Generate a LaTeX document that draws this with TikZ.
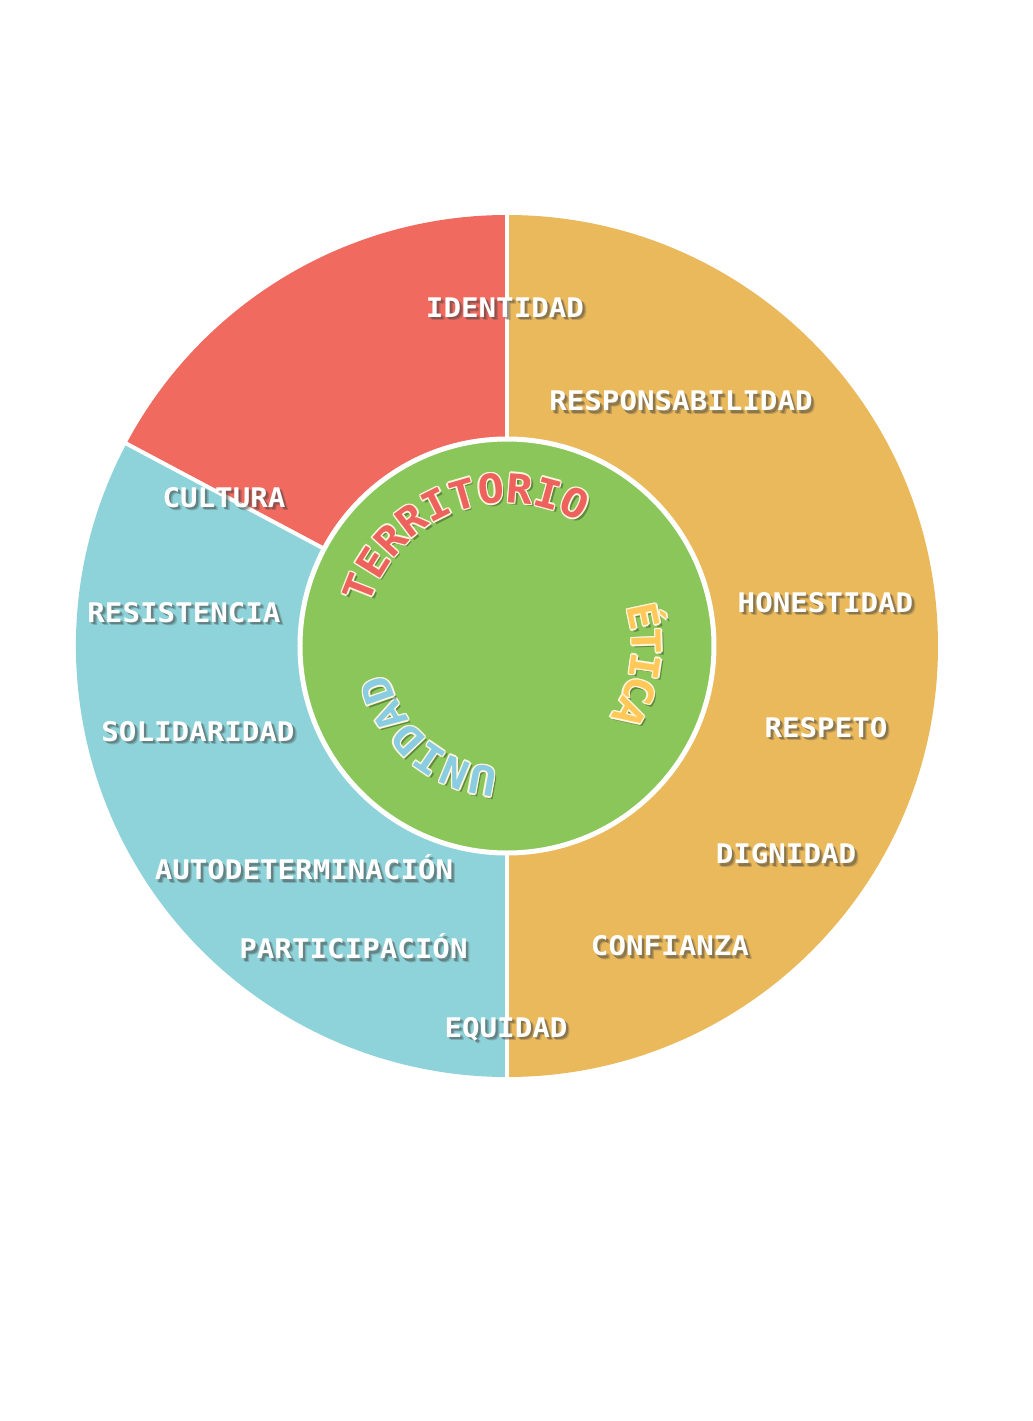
\documentclass[tikz,border=0pt]{standalone}
\usepackage{fontspec}
\newfontfamily\monofont{DejaVu Sans Mono}
\newcommand{\valfont}{\monofont\bfseries\fontsize{13.5}{16}\selectfont}
\newcommand{\ringfont}{\monofont\bfseries\fontsize{20}{24}\selectfont}

\definecolor{segred}{RGB}{240,106,96}
\definecolor{segorange}{RGB}{233,185,92}
\definecolor{segblue}{RGB}{141,211,217}
\definecolor{segcentre}{RGB}{139,198,90}
\definecolor{wordred}{RGB}{238,98,94}
\definecolor{wordorange}{RGB}{255,200,88}
\definecolor{wordblue}{RGB}{138,205,226}
\definecolor{wordedge}{RGB}{255,246,222}

\tikzset{
  valtext/.style={font=\valfont, text=white, inner sep=0pt, text height=9.8pt, text depth=0pt},
  valshade/.style={valtext, text=black!75, opacity=0.4},
  ringletter/.style={font=\ringfont, inner sep=0pt, text height=14.6pt, text depth=0pt},
  ringedge/.style={ringletter, text=wordedge},
  ringshade/.style={ringletter, text=black, opacity=0.3}
}

% label with soft shadow: name, position, text
\newcommand{\valuelabel}[3]{%
  \node[valshade, opacity=0.25, xshift=1.8pt, yshift=-1.8pt, xscale=1.08] (#1-t) at (#2) {#3};
  \node[valshade, xshift=1.1pt, yshift=-1.1pt, xscale=1.08] (#1-s) at (#2) {#3};
  \node[valtext, xscale=1.08] (#1) at (#2) {#3};
}

% word round the inner circle: name, colour, radius, start angle, step, letters
\newcommand{\ringword}[6]{%
  \foreach \ch [count=\i] in {#6} {
    \pgfmathsetmacro{\ang}{#4+(\i-1)*(#5)}
    \node[ringshade, xshift=1.3pt, yshift=-1.3pt, rotate=\ang-90, xscale=1.1] (#1-\i-s) at (\ang:#3) {\ch};
    \foreach \dx/\dy [count=\k] in {0.7/0,-0.7/0,0/0.7,0/-0.7,0.5/0.5,-0.5/0.5,0.5/-0.5,-0.5/-0.5} {
      \node[ringedge, xshift=\dx pt, yshift=\dy pt, rotate=\ang-90, xscale=1.1] (#1-\i-e\k) at (\ang:#3) {\ch};
    }
    \node[ringletter, text=#2, rotate=\ang-90, xscale=1.1] (#1-\i) at (\ang:#3) {\ch};
  }
}

\begin{document}
\begin{tikzpicture}[x=0.5pt,y=0.5pt]
  \fill[white] (-507,-775) rectangle (526,646);
  \useasboundingbox (-507,-775) rectangle (526,646);

  %outer ring
  \fill[segorange] (0,0) -- (-90:431) arc (-90:90:431) -- cycle;
  \fill[segred] (0,0) -- (90:431) arc (90:152:431) -- cycle;
  \fill[segblue] (0,0) -- (152:431) arc (152:270:431) -- cycle;
  \foreach \a in {90,152,270} {
    \draw[white, line width=2pt] (0,0) -- (\a:434);
  }

  %centre
  \filldraw[fill=segcentre, draw=white, line width=2.5pt] (0,0) circle (207);

  %values
  \valuelabel{identidad}{-2,338.5}{IDENTIDAD}
  \valuelabel{responsabilidad}{174,245}{RESPONSABILIDAD}
  \valuelabel{cultura}{-283,148.5}{CULTURA}
  \valuelabel{resistencia}{-323,33.5}{RESISTENCIA}
  \valuelabel{solidaridad}{-309,-85.5}{SOLIDARIDAD}
  \valuelabel{autodeterminacion}{-203,-224}{AUTODETERMINACIÓN}
  \valuelabel{participacion}{-153.5,-303}{PARTICIPACIÓN}
  \valuelabel{equidad}{-1,-381.5}{EQUIDAD}
  \valuelabel{honestidad}{318.5,43.5}{HONESTIDAD}
  \valuelabel{respeto}{319,-81.5}{RESPETO}
  \valuelabel{dignidad}{279,-208}{DIGNIDAD}
  \valuelabel{confianza}{163,-300}{CONFIANZA}

  %curved words
  \ringword{territorio}{wordred}{158}{158.5}{-10.45}{T,E,R,R,I,T,O,R,I,O}
  \ringword{etica}{wordorange}{140}{12}{-10.2}{É,T,I,C,A}
  \ringword{unidad}{wordblue}{137}{259.7}{-12.1}{U,N,I,D,A,D}
\end{tikzpicture}
\end{document}
